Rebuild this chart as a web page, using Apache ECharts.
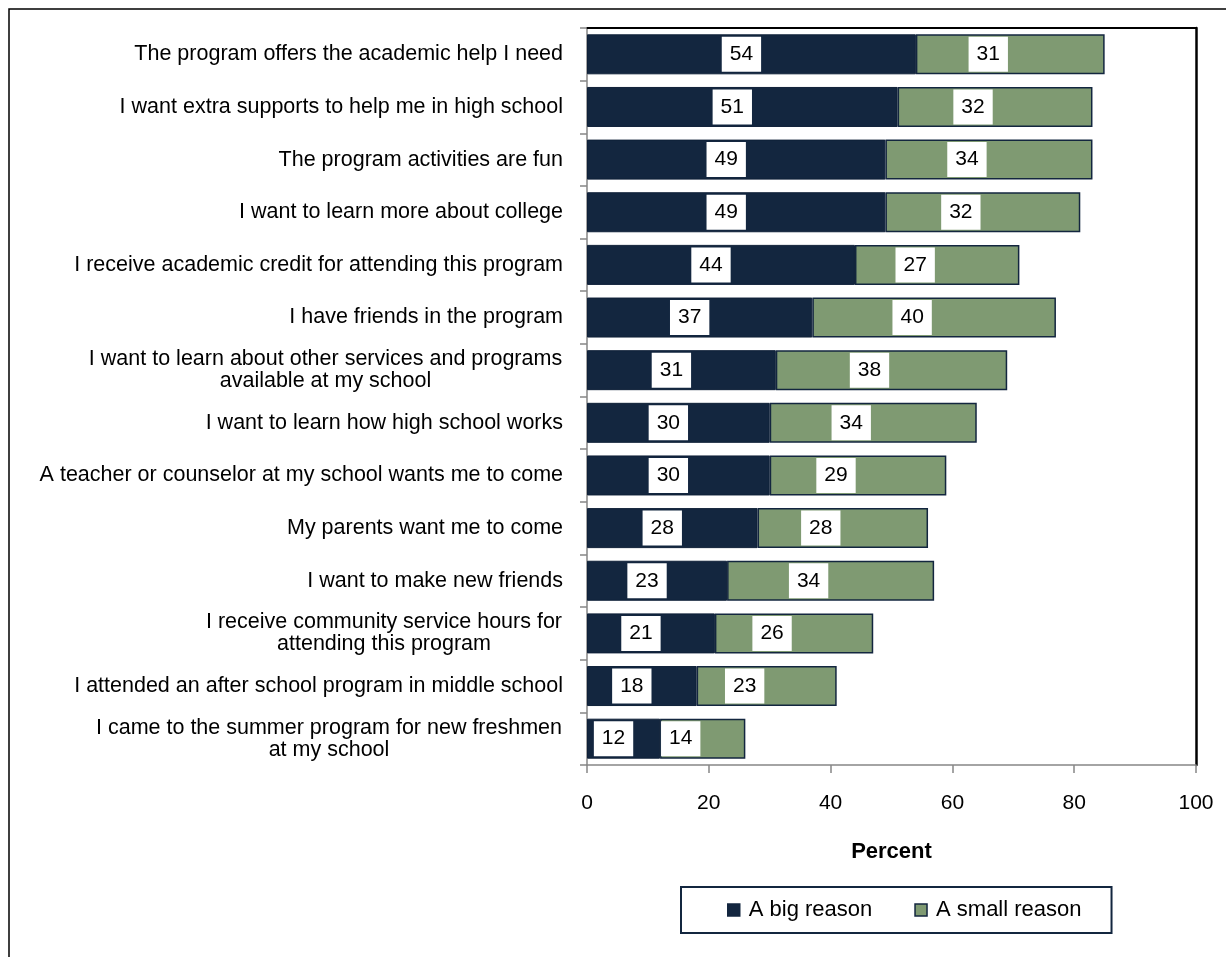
<!DOCTYPE html>
<html>
<head>
<meta charset="utf-8">
<script src="https://cdn.jsdelivr.net/npm/echarts@6/dist/echarts.min.js"></script>
<style>
  html, body { margin: 0; padding: 0; background: #fff; }
  #chart { width: 1226px; height: 957px; }
</style>
</head>
<body>
<div id="chart"></div>
<script>
// Reasons students give for attending the program (percent of respondents)
const categories = [
  'The program offers the academic help I need',
  'I want extra supports to help me in high school',
  'The program activities are fun',
  'I want to learn more about college',
  'I receive academic credit for attending this program',
  'I have friends in the program',
  'I want to learn about other services and programs\navailable at my school',
  'I want to learn how high school works',
  'A teacher or counselor at my school wants me to come',
  'My parents want me to come',
  'I want to make new friends',
  'I receive community service hours for\nattending this program',
  'I attended an after school program in middle school',
  'I came to the summer program for new freshmen\nat my school'
];
const bigReason   = [54, 51, 49, 49, 44, 37, 31, 30, 30, 28, 23, 21, 18, 12];
const smallReason = [31, 32, 34, 32, 27, 40, 38, 34, 29, 28, 34, 26, 23, 14];
const seriesNames = ['A big reason', 'A small reason'];
const axisTicks = [0, 20, 40, 60, 80, 100];

const FONT_NAME = 'Liberation Sans';
const FONT = '"Liberation Sans", Arial, sans-serif';
const CAT_SIZE = 21.5;
const NAVY = '#13263f';
const GREEN = '#7f9a72';

// Multi-line category labels are centred on each other while the whole
// block stays right-aligned against the axis: each line gets a rich-text
// box as wide as the widest line of its label.
const measureCtx = document.createElement('canvas').getContext('2d');
measureCtx.font = CAT_SIZE + 'px "' + FONT_NAME + '"';
const catRich = {};
const catText = {};
categories.forEach((c, i) => {
  const lines = c.split('\n');
  if (lines.length < 2) { catText[c] = c; return; }
  const w = Math.ceil(Math.max(...lines.map(l => measureCtx.measureText(l).width))) + 1;
  const key = 'm' + i;
  catRich[key] = { width: w, align: 'center', fontFamily: FONT, fontSize: CAT_SIZE, color: '#000', lineHeight: 22 };
  catText[c] = lines.map(l => '{' + key + '|' + l + '}').join('\n');
});

const chart = echarts.init(document.getElementById('chart'));

function valueLabel(offsetX) {
  return {
    show: true,
    position: 'inside',
    offset: [offsetX, 0],
    color: '#000',
    fontFamily: FONT,
    fontSize: 21,
    lineHeight: 21,
    backgroundColor: '#fff',
    padding: [7, 8, 7, 8],
    formatter: p => p.value
  };
}

chart.setOption({
  animation: false,
  backgroundColor: '#fff',
  textStyle: { fontFamily: FONT },
  graphic: [{
    type: 'rect',
    shape: { x: 9, y: 9, width: 1260, height: 1000 },
    style: { fill: 'none', stroke: '#000', lineWidth: 1.5 },
    silent: true
  }],
  grid: { left: 587, right: 30, top: 28, bottom: 192, containLabel: false },
  legend: {
    data: seriesNames,
    left: 681,
    bottom: 24,
    orient: 'horizontal',
    icon: 'rect',
    itemWidth: 12,
    itemHeight: 12,
    itemGap: 42,
    padding: [12, 30, 12, 46],
    borderColor: NAVY,
    borderWidth: 2,
    textStyle: { fontFamily: FONT, fontSize: 22, color: '#000', padding: [0, 0, 0, 4] },
    itemStyle: { borderColor: NAVY, borderWidth: 1.5 }
  },
  xAxis: [{
    type: 'value',
    min: axisTicks[0],
    max: axisTicks[axisTicks.length - 1],
    interval: 20,
    name: 'Percent',
    nameLocation: 'middle',
    nameGap: 76,
    nameTextStyle: { fontFamily: FONT, fontSize: 22, fontWeight: 'bold', color: '#000' },
    axisLine: { show: true, onZero: false, lineStyle: { color: '#868686', width: 1.5 } },
    axisTick: { show: true, inside: false, length: 8, lineStyle: { color: '#868686', width: 1.5 } },
    axisLabel: { fontFamily: FONT, fontSize: 21, color: '#000', margin: 28 },
    splitLine: { show: false }
  }, {
    type: 'value',
    position: 'top',
    min: 0, max: 100, interval: 20,
    axisLine: { show: true, onZero: false, lineStyle: { color: '#000', width: 2 } },
    axisTick: { show: false },
    axisLabel: { show: false },
    splitLine: { show: false }
  }],
  yAxis: [{
    type: 'category',
    data: categories,
    inverse: true,
    axisLine: { show: true, onZero: false, lineStyle: { color: '#868686', width: 1.5 } },
    axisTick: { show: true, length: 7, lineStyle: { color: '#868686', width: 1.5 } },
    axisLabel: {
      fontFamily: FONT, fontSize: CAT_SIZE, color: '#000', margin: 24,
      align: 'right', lineHeight: 22,
      formatter: v => catText[v],
      rich: catRich
    }
  }, {
    type: 'category',
    data: categories,
    inverse: true,
    position: 'right',
    axisLine: { show: true, onZero: false, lineStyle: { color: '#000', width: 2.5 } },
    axisTick: { show: false },
    axisLabel: { show: false }
  }],
  series: [{
    name: seriesNames[0],
    type: 'bar',
    stack: 'total',
    data: bigReason,
    barCategoryGap: '24%',
    itemStyle: { color: NAVY, borderColor: '#0f2038', borderWidth: 1 },
    label: valueLabel(-10)
  }, {
    name: seriesNames[1],
    type: 'bar',
    stack: 'total',
    data: smallReason,
    barCategoryGap: '24%',
    itemStyle: { color: GREEN, borderColor: NAVY, borderWidth: 1.5 },
    label: valueLabel(-22)
  }]
});
</script>
</body>
</html>
